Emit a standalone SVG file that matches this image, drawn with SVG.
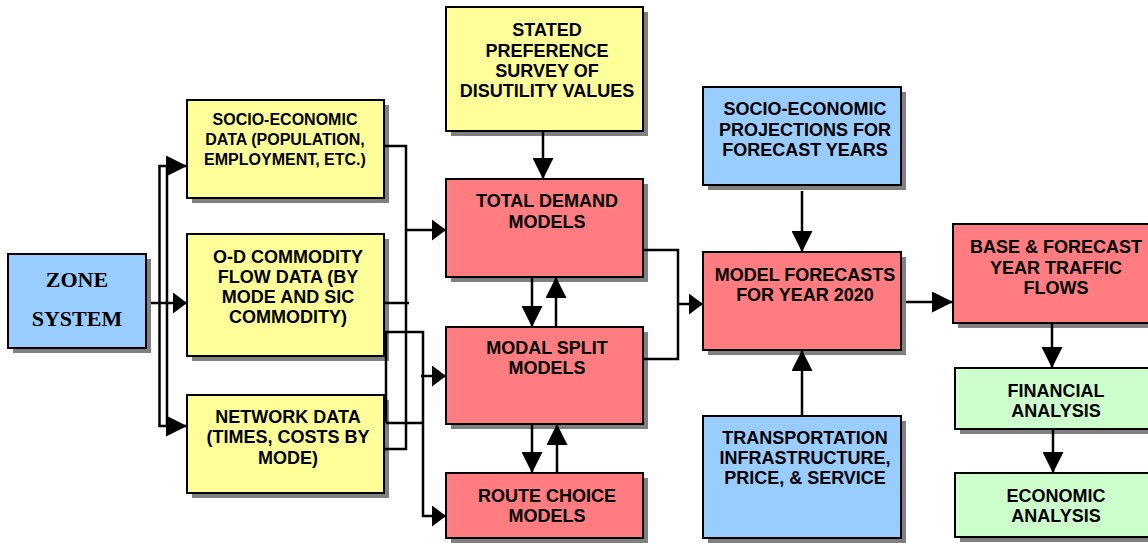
<svg xmlns="http://www.w3.org/2000/svg" width="1148" height="543" viewBox="0 0 1148 543">
<style>
.sh{fill:#808080}
.bx{stroke:#000;stroke-width:2}
.y{fill:#FFFF99}.r{fill:#FF7C80}.b{fill:#99CCFF}.g{fill:#CCFFCC}
text{font-family:"Liberation Sans",Arial,sans-serif;font-weight:bold;font-size:18px;text-anchor:middle;fill:#000}
text.s{font-size:16px}
text.z{font-family:"Liberation Serif","Times New Roman",serif;font-size:22px}
.c{stroke:#000;stroke-width:2.5;fill:none}
</style>
<defs>
<marker id="al" markerUnits="userSpaceOnUse" markerWidth="21" markerHeight="21" refX="21" refY="10.5" orient="auto"><path d="M0,0 L21,10.5 L0,21 Z" fill="#000"/></marker>
<marker id="as" markerUnits="userSpaceOnUse" markerWidth="14" markerHeight="21" refX="14" refY="10.5" orient="auto"><path d="M0,0 L14,10.5 L0,21 Z" fill="#000"/></marker>
</defs>
<rect width="1148" height="543" fill="#fff"/>
<g id="zone"><rect class="sh" x="13" y="259" width="138" height="94"/><rect class="bx b" x="8" y="254" width="138" height="94"/><text class="z" x="77" y="287">ZONE</text><text class="z" x="77" y="326">SYSTEM</text></g>
<g id="socio-data"><rect class="sh" x="192" y="105" width="197" height="98"/><rect class="bx y" x="187" y="100" width="197" height="98"/><text class="s" x="285" y="125">SOCIO-ECONOMIC</text><text class="s" x="285" y="145">DATA (POPULATION,</text><text class="s" x="285" y="165">EMPLOYMENT, ETC.)</text></g>
<g id="od-data"><rect class="sh" x="192" y="239" width="197" height="122"/><rect class="bx y" x="187" y="234" width="197" height="122"/><text x="288" y="263">O-D COMMODITY</text><text x="288" y="283">FLOW DATA (BY</text><text x="288" y="303">MODE AND SIC</text><text x="288" y="323">COMMODITY)</text></g>
<g id="network-data"><rect class="sh" x="192" y="400" width="197" height="98"/><rect class="bx y" x="187" y="395" width="197" height="98"/><text x="288" y="423">NETWORK DATA</text><text x="288" y="443">(TIMES, COSTS BY</text><text x="288" y="464">MODE)</text></g>
<g id="stated"><rect class="sh" x="451" y="12" width="197" height="124"/><rect class="bx y" x="446" y="7" width="197" height="124"/><text x="547" y="36">STATED</text><text x="547" y="57">PREFERENCE</text><text x="547" y="77">SURVEY OF</text><text x="547" y="97">DISUTILITY VALUES</text></g>
<g id="total-demand"><rect class="sh" x="451" y="184" width="197" height="98"/><rect class="bx r" x="446" y="179" width="197" height="98"/><text x="547" y="207">TOTAL DEMAND</text><text x="547" y="228">MODELS</text></g>
<g id="modal-split"><rect class="sh" x="451" y="332" width="197" height="97"/><rect class="bx r" x="446" y="327" width="197" height="97"/><text x="547" y="354">MODAL SPLIT</text><text x="547" y="374">MODELS</text></g>
<g id="route-choice"><rect class="sh" x="451" y="478" width="197" height="65"/><rect class="bx r" x="446" y="473" width="197" height="65"/><text x="547" y="502">ROUTE CHOICE</text><text x="547" y="522">MODELS</text></g>
<g id="projections"><rect class="sh" x="708" y="92" width="198" height="98"/><rect class="bx b" x="703" y="87" width="198" height="98"/><text x="805" y="115">SOCIO-ECONOMIC</text><text x="805" y="136">PROJECTIONS FOR</text><text x="805" y="156">FORECAST YEARS</text></g>
<g id="model-forecasts"><rect class="sh" x="708" y="257" width="198" height="98"/><rect class="bx r" x="703" y="252" width="198" height="98"/><text x="805" y="281">MODEL FORECASTS</text><text x="805" y="301">FOR YEAR 2020</text></g>
<g id="transportation"><rect class="sh" x="708" y="421" width="198" height="122"/><rect class="bx b" x="703" y="416" width="198" height="122"/><text x="805" y="444">TRANSPORTATION</text><text x="805" y="464">INFRASTRUCTURE,</text><text x="805" y="484">PRICE, &amp; SERVICE</text></g>
<g id="traffic-flows"><rect class="sh" x="958" y="229" width="206" height="99"/><rect class="bx r" x="953" y="224" width="206" height="99"/><text x="1056" y="253">BASE &amp; FORECAST</text><text x="1056" y="274">YEAR TRAFFIC</text><text x="1056" y="294">FLOWS</text></g>
<g id="financial"><rect class="sh" x="960" y="373" width="204" height="61"/><rect class="bx g" x="955" y="368" width="204" height="61"/><text x="1056" y="397">FINANCIAL</text><text x="1056" y="417">ANALYSIS</text></g>
<g id="economic"><rect class="sh" x="960" y="478" width="204" height="64"/><rect class="bx g" x="955" y="473" width="204" height="64"/><text x="1056" y="502">ECONOMIC</text><text x="1056" y="522">ANALYSIS</text></g>
<g id="connectors">
<path class="c" d="M159.5,166 H167 V426 H159.5 Z" stroke-width="2"/>
<path class="c" d="M167,166 H187" marker-end="url(#al)"/>
<path class="c" d="M167,426 H187" marker-end="url(#al)"/>
<path class="c" d="M151,303 H187" marker-end="url(#as)"/>
<path class="c" d="M384,146 H406 V449 H384"/>
<path class="c" d="M406,230 H446" marker-end="url(#as)"/>
<path class="c" d="M384,303 H409"/>
<path class="c" d="M386,423 V332 H423 V516 H446" marker-end="url(#as)"/>
<path class="c" d="M386,423 H423"/>
<path class="c" d="M421,376 H446" marker-end="url(#as)"/>
<path class="c" d="M543,131 V179" marker-end="url(#al)"/>
<path class="c" d="M532,277 V327" marker-end="url(#al)"/>
<path class="c" d="M556,327 V277" marker-end="url(#al)"/>
<path class="c" d="M532,424 V473" marker-end="url(#al)"/>
<path class="c" d="M557,473 V424" marker-end="url(#al)"/>
<path class="c" d="M643,250 H678 V359 H643"/>
<path class="c" d="M678,304 H703" marker-end="url(#as)"/>
<path class="c" d="M802,191 V252" marker-end="url(#al)"/>
<path class="c" d="M802,416 V350" marker-end="url(#al)"/>
<path class="c" d="M906,302 H953" marker-end="url(#al)"/>
<path class="c" d="M1052,323 V368" marker-end="url(#al)"/>
<path class="c" d="M1053,429 V473" marker-end="url(#al)"/>
</g>
</svg>
